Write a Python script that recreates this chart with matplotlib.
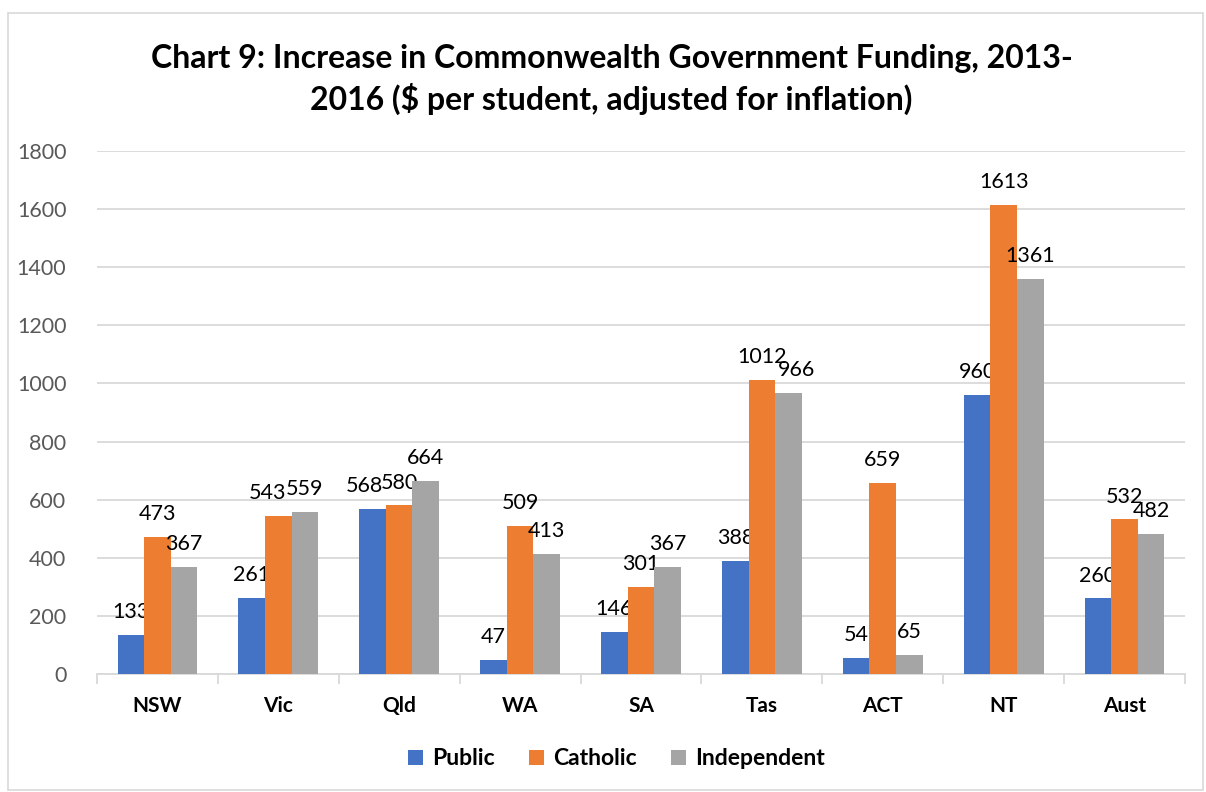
import numpy as np
import matplotlib
matplotlib.use("Agg")
import matplotlib.pyplot as plt
from matplotlib.patches import Rectangle

plt.rcParams["font.family"] = ["Lato", "DejaVu Sans"]

# data
states = ["NSW", "Vic", "Qld", "WA", "SA", "Tas", "ACT", "NT", "Aust"]
public = [133, 261, 568, 47, 146, 388, 54, 960, 260]
catholic = [473, 543, 580, 509, 301, 1012, 659, 1613, 532]
independent = [367, 559, 664, 413, 367, 966, 65, 1361, 482]
series_names = ["Public", "Catholic", "Independent"]
series_colors = ["#4472C4", "#ED7D31", "#A5A5A5"]
y_ticks = [0, 200, 400, 600, 800, 1000, 1200, 1400, 1600, 1800]

# Excel nudged a few crowded labels sideways (pixels)
label_nudge = {("Vic", "Catholic"): -11, ("Qld", "Public"): -8,
               ("Tas", "Independent"): 8}

fig = plt.figure(figsize=(12.06, 7.92), dpi=100)
ax = fig.add_axes([0.0804, 0.149, 0.9022, 0.6603])

# light frame around the whole chart, as in the Excel export
fig.patches.append(Rectangle((8 / 1206, 2 / 792), 1195 / 1206, 777 / 792,
                             transform=fig.transFigure, fill=False,
                             edgecolor="#D9D9D9", linewidth=1.2))

x = np.arange(len(states))
width = 0.22
grid_color = "#D9D9D9"
for i, (name, vals, col) in enumerate(zip(series_names,
                                          [public, catholic, independent],
                                          series_colors)):
    pos = x + (i - 1) * width
    bars = ax.bar(pos, vals, width, color=col, label=name, zorder=3)
    for st, b, v in zip(states, bars, vals):
        dx = label_nudge.get((st, name), 0) * 0.72
        ax.annotate(str(v), (b.get_x() + b.get_width() / 2, v),
                    xytext=(dx, 16.5), textcoords="offset points",
                    ha="center", va="center", fontsize=15.5, color="#000000")

ax.set_xlim(-0.5, len(states) - 0.5)
ax.set_ylim(0, 1800)
ax.set_yticks(y_ticks)
ax.yaxis.grid(True, color=grid_color, linewidth=1.3, zorder=0)
ax.set_axisbelow(True)
for side in ["top", "right", "left"]:
    ax.spines[side].set_visible(False)
ax.spines["bottom"].set_color(grid_color)
ax.spines["bottom"].set_linewidth(1.3)
ax.tick_params(axis="y", length=0, labelsize=15.5, labelcolor="#595959", pad=22)

ax.set_xticks(x)
ax.set_xticklabels(states, fontsize=15, fontweight="bold")
ax.tick_params(axis="x", length=0, pad=16)
ax.set_xticks(np.arange(-0.5, len(states)), minor=True)
ax.tick_params(axis="x", which="minor", length=7, color=grid_color, width=1.3)

fig.suptitle("Chart 9: Increase in Commonwealth Government Funding, 2013-\n"
             "2016 ($ per student, adjusted for inflation)",
             x=0.507, y=0.944, fontsize=23, fontweight="bold",
             linespacing=1.36)

leg = fig.legend(loc="center", bbox_to_anchor=(0.511, 0.042), ncol=3,
                 frameon=False, prop={"size": 16.5, "weight": "bold"},
                 handlelength=0.65, handleheight=0.65, handletextpad=0.4,
                 columnspacing=1.5)

fig.savefig("out.png", dpi=100)
